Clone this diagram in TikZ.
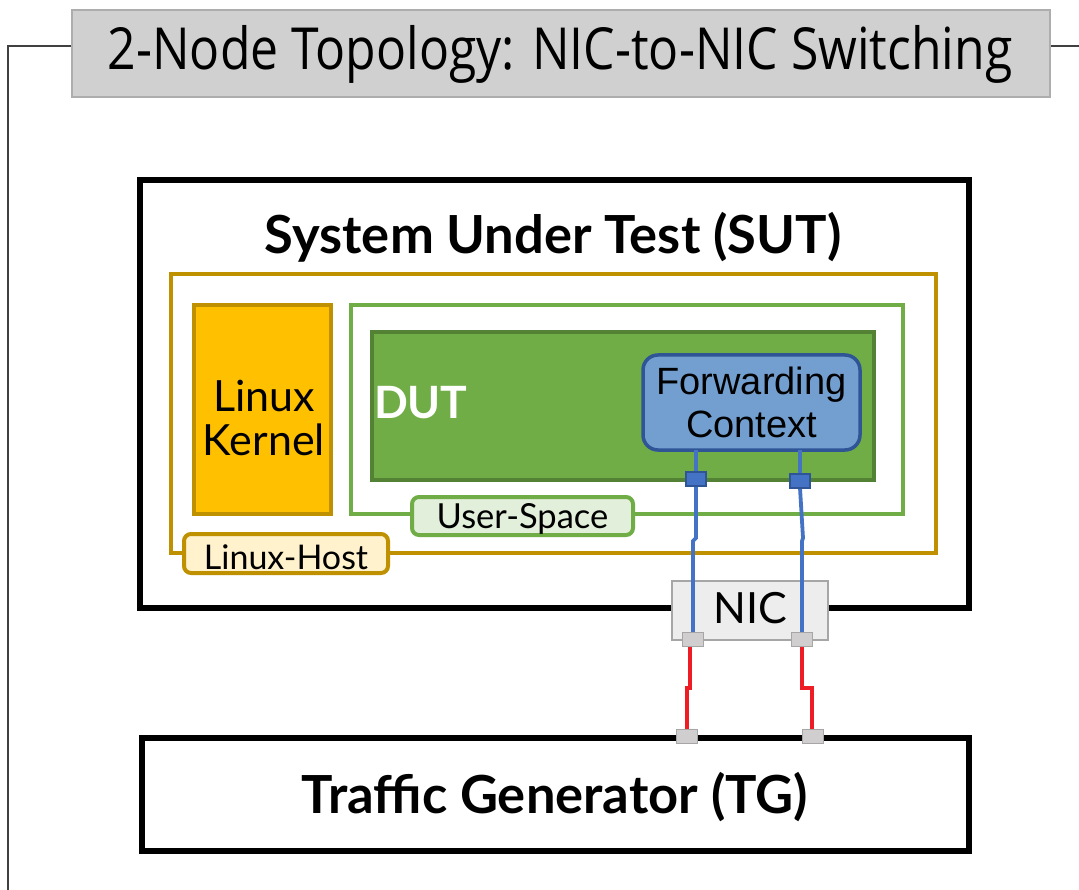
\documentclass[tikz,border=0pt]{standalone}
\usepackage{fontspec}
\setmainfont{Lato}
\newfontfamily\arialf{Liberation Sans}
\newfontfamily\titlef[FakeStretch=0.86]{Open Sans}
\definecolor{titlegray}{HTML}{D0D0D0}
\definecolor{titleedge}{HTML}{ADADAD}
\definecolor{gold}{HTML}{BF9000}
\definecolor{kernel}{HTML}{FFC000}
\definecolor{hostfill}{HTML}{FFF2CC}
\definecolor{ugreen}{HTML}{70AD47}
\definecolor{dgreen}{HTML}{548235}
\definecolor{ufill}{HTML}{E2EFDA}
\definecolor{fcfill}{HTML}{729FD0}
\definecolor{fcedge}{HTML}{2F5597}
\definecolor{portblue}{HTML}{4472C4}
\definecolor{nicfill}{HTML}{EDEDED}
\definecolor{nicedge}{HTML}{A6A6A6}
\definecolor{portgray}{HTML}{D0CECE}
\definecolor{linkred}{HTML}{EE1C25}
\definecolor{linkblue}{HTML}{4472C4}
\begin{document}
\begin{tikzpicture}[x=1pt,y=-1pt,
  every node/.style={inner sep=0pt, outer sep=0pt},
  framel/.style={draw=black!75, line width=1.6pt},
  blackbox/.style={draw=black, line width=6pt, fill=white},
  goldbox/.style={draw=gold, line width=4pt},
  greenbox/.style={draw=ugreen, line width=4pt},
  tagbox/.style={rounded corners=7pt, line width=4pt},
  bport/.style={draw=fcedge, line width=1.5pt, fill=portblue, minimum width=20pt, minimum height=14pt},
  gport/.style={draw=nicedge, line width=1.5pt, fill=portgray, minimum width=21pt, minimum height=14pt},
  blink/.style={draw=linkblue, line width=3.8pt},
  rlink/.style={draw=linkred, line width=3.8pt}
]
\useasboundingbox (0,0) rectangle (1079,890);

% frame lines
\coordinate (fA) at (72,46);
\coordinate (fB) at (8,46);
\coordinate (fC) at (8,892);
\coordinate (fD) at (1050,46);
\coordinate (fE) at (1081,46);
\draw[framel] (fA) -- (fB) -- (fC);
\draw[framel] (fD) -- (fE);

% title
\node[draw=titleedge, line width=2.5pt, fill=titlegray, minimum width=978pt, minimum height=87pt] (title) at (561,53.5) {};
\node (titletext) at (560,54) {\titlef\fontsize{58}{64}\selectfont 2-Node Topology: NIC-to-NIC Switching};

% SUT
\node[blackbox, minimum width=829pt, minimum height=428pt] (sut) at (554.5,394) {};
\node (suttext) at (553,237) {\bfseries\fontsize{52.5}{58}\selectfont System Under Test (SUT)};

% Linux host
\node[goldbox, minimum width=765pt, minimum height=279pt] (host) at (553.5,413.5) {};
% kernel
\node[goldbox, fill=kernel, minimum width=137pt, minimum height=209pt] (kernel) at (262.5,409.5) {};
\node[align=center, font=\fontsize{43}{44}\selectfont] (kerneltext) at (264,418) {Linux\\Kernel};
% user space
\node[greenbox, minimum width=552pt, minimum height=209pt] (user) at (627,409.5) {};
% DUT
\node[draw=dgreen, line width=4pt, fill=ugreen, minimum width=502pt, minimum height=148pt] (dut) at (623,406) {};
\node[anchor=west, text=white] (duttext) at (374,403) {\bfseries\fontsize{44.5}{50}\selectfont DUT};
% forwarding context
\node[draw=fcedge, line width=3.5pt, fill=fcfill, rounded corners=15pt, minimum width=217pt, minimum height=95pt,
  align=center, font=\arialf\fontsize{38}{43}\selectfont] (fc) at (751.5,402.5) {Forwarding\\Context};

% ports on DUT
\node[bport] (p1) at (696,479) {};
\node[bport] (p2) at (800,481) {};

% User-Space tag
\node[tagbox, draw=ugreen, fill=ufill, minimum width=221pt, minimum height=38pt] (utag) at (522.5,516) {};
\node (utagtext) at (522.5,519) {\fontsize{34.5}{38}\selectfont User-Space};
% Linux-Host tag
\node[tagbox, draw=gold, fill=hostfill, minimum width=204pt, minimum height=39pt] (htag) at (286,553.5) {};
\node (htagtext) at (286,557) {\fontsize{34}{38}\selectfont Linux-Host};

% NIC
\node[draw=nicedge, line width=2.5pt, fill=nicfill, minimum width=156pt, minimum height=59pt] (nic) at (750,610.5) {};
\node (nictext) at (750,608) {\fontsize{43}{48}\selectfont NIC};

% links blue
\coordinate (b1a) at (696,538);
\coordinate (b1b) at (693,541);
\coordinate (b2a) at (803,538);
\coordinate (b2b) at (802,541);

% NIC ports
\node[gport] (n1) at (693,639.5) {};
\node[gport] (n2) at (802,639.5) {};

\draw[blink] (fc.south -| p1) -- (p1.north);
\draw[blink] (fc.south -| p2) -- (p2.north);
\draw[blink] (p1.south) -- (b1a) -- (b1b) -- (n1.north);
\draw[blink] (p2.south) -- (b2a) -- (b2b) -- (n2.north);
\node[bport] at (p1) {};
\node[bport] at (p2) {};

% TG
\node[blackbox, minimum width=827pt, minimum height=113pt] (tg) at (555.5,794.5) {};
\node (tgtext) at (555,797) {\bfseries\fontsize{52.5}{58}\selectfont Traffic Generator (TG)};

% TG ports
\node[gport] (t1) at (687,736.5) {};
\node[gport] (t2) at (813,736.5) {};

% red links
\coordinate (r1a) at (690,688);
\coordinate (r1b) at (687,688);
\coordinate (r2a) at (802,688);
\coordinate (r2b) at (812,688);
\draw[rlink] (n1.south -| r1a) -- (r1a) -- (r1b) -- (t1.north);
\draw[rlink] (n2.south) -- (r2a) -- (r2b) -- (t2.north -| r2b);
\node[gport] at (t1) {};
\node[gport] at (t2) {};
\node[gport] at (n1) {};
\node[gport] at (n2) {};
\end{tikzpicture}
\end{document}
